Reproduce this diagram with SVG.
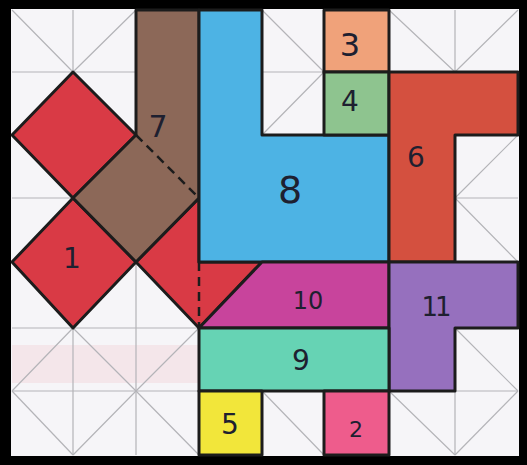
<svg xmlns="http://www.w3.org/2000/svg" width="527" height="465" viewBox="0 0 527 465">
<style>
.grid{fill:none;stroke:#b4b4b8;stroke-width:1.2}
.pc{stroke:#1c1c1c;stroke-width:3;stroke-linejoin:round}
.dash{fill:none;stroke:#1c1c1c;stroke-width:2.5;stroke-dasharray:9 6}
.lb{font-family:"DejaVu Sans","Liberation Sans",sans-serif;fill:#1e2030;text-anchor:middle}
</style>
<rect x="0" y="0" width="527" height="465" fill="#000"/>
<rect x="11" y="9" width="508" height="447" fill="#f6f5f8"/>
<rect x="12" y="345" width="190" height="38" fill="#f3dfe4" opacity="0.7"/>
<g id="lattice" class="grid">
<path d="M73 10V455M136 10V455M199 10V455M262 10V455M324 10V455M389 10V455M455 10V455"/>
<path d="M12 72H518M12 135H518M12 198H518M12 262H518M12 328H518M12 391H518"/>
<polyline points="12,391 73,455"/>
<polyline points="12,262 73,328 136,391 199,455"/>
<polyline points="12,135 73,198 136,262 199,328 262,391 324,455"/>
<polyline points="12,10 73,72 136,135 199,198 262,262 324,328 389,391 455,455"/>
<polyline points="136,10 199,72 262,135 324,198 389,262 455,328 518,391"/>
<polyline points="262,10 324,72 389,135 455,198 518,262"/>
<polyline points="389,10 455,72 518,135"/>
<polyline points="136,10 73,72 12,135"/>
<polyline points="262,10 199,72 136,135 73,198 12,262"/>
<polyline points="389,10 324,72 262,135 199,198 136,262 73,328 12,391"/>
<polyline points="518,10 455,72 389,135 324,198 262,262 199,328 136,391 73,455"/>
<polyline points="518,135 455,198 389,262 324,328 262,391 199,455"/>
<polyline points="518,262 455,328 389,391 324,455"/>
<polyline points="518,391 455,455"/>
</g>
<g id="piece1">
<polygon class="pc" fill="#d93a45" points="73,72 136,135 73,198 12,135"/>
<polygon class="pc" fill="#d93a45" points="73,198 136,262 73,328 12,262"/>
<polygon class="pc" fill="#d93a45" points="199,198 199,262 262,262 199,328 136,262"/>
<line class="dash" x1="199" y1="262" x2="199" y2="326"/>
<text class="lb" x="72" y="268" font-size="28">1</text>
</g>
<g id="piece7">
<polygon class="pc" fill="#8c6858" points="136,10 199,10 199,198 136,262 73,198 136,135"/>
<line class="dash" x1="136" y1="135" x2="199" y2="198"/>
<text class="lb" x="158" y="137" font-size="30">7</text>
</g>
<g id="piece8">
<polygon class="pc" fill="#4db3e4" points="199,10 262,10 262,135 389,135 389,262 199,262"/>
<text class="lb" x="290" y="203" font-size="38">8</text>
</g>
<g id="piece3">
<rect class="pc" fill="#f0a27a" x="324" y="10" width="65" height="62"/>
<text class="lb" x="350" y="56" font-size="32">3</text>
</g>
<g id="piece4">
<rect class="pc" fill="#8ec48f" x="324" y="72" width="65" height="63"/>
<text class="lb" x="350" y="111" font-size="28">4</text>
</g>
<g id="piece6">
<polygon class="pc" fill="#d4503f" points="389,72 518,72 518,135 455,135 455,262 389,262"/>
<text class="lb" x="416" y="167" font-size="28">6</text>
</g>
<g id="piece10">
<polygon class="pc" fill="#c8449c" points="262,262 389,262 389,328 199,328"/>
<text class="lb" x="308" y="309" font-size="24">10</text>
</g>
<g id="piece11">
<polygon class="pc" fill="#9670be" points="389,262 518,262 518,328 455,328 455,391 389,391"/>
<text class="lb" x="435" y="316" font-size="26" letter-spacing="-3">11</text>
</g>
<g id="piece9">
<rect class="pc" fill="#66d3b4" x="199" y="328" width="190" height="63"/>
<text class="lb" x="301" y="370" font-size="28">9</text>
</g>
<g id="piece5">
<rect class="pc" fill="#f2e63a" x="199" y="391" width="63" height="64"/>
<text class="lb" x="230" y="434" font-size="28">5</text>
</g>
<g id="piece2">
<rect class="pc" fill="#ee5c8c" x="324" y="391" width="65" height="64"/>
<text class="lb" x="356" y="437" font-size="22">2</text>
</g>
<g id="connectors"></g>
</svg>
